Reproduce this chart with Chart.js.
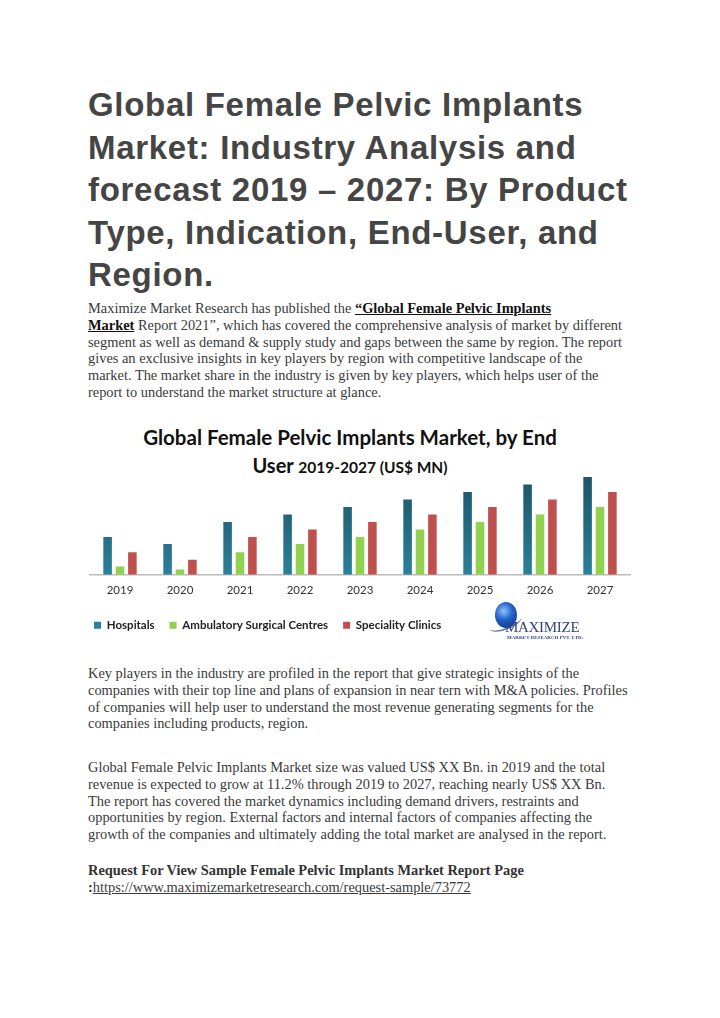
<!DOCTYPE html>
<html>
<head>
<meta charset="utf-8">
<script src="https://cdn.jsdelivr.net/npm/chart.js@4.4.1/dist/chart.umd.min.js"></script>
<style>
  html, body { margin: 0; padding: 0; background: #fff; }
  body { width: 720px; height: 1018px; position: relative; overflow: hidden; }
  .h1 {
    position: absolute; left: 88px; top: 84px; white-space: nowrap;
    font-family: "Liberation Sans", Arial, sans-serif; font-weight: bold;
    font-size: 33px; line-height: 42.5px; color: #454545; letter-spacing: 0.7px;
  }
  .p {
    position: absolute; left: 88px; white-space: nowrap;
    font-family: "Liberation Serif", "Times New Roman", serif;
    font-size: 14.4px; line-height: 16.8px; color: #3a3a3a;
  }
  .p b.lnk { color: #111; text-decoration: underline; }
  .ctitle {
    position: absolute; left: 80px; width: 540px; text-align: center;
    font-family: Lato, "Open Sans", sans-serif; font-weight: bold; color: #111;
  }
  #wrap { position: absolute; left: 84px; top: 470px; width: 552px; height: 173px; }
  .logo { position: absolute; left: 488px; top: 600px; width: 110px; height: 44px; }
  .globe {
    position: absolute; left: 7px; top: 2px; width: 22px; height: 26px; border-radius: 50%;
    background: radial-gradient(circle at 40% 35%, #8cc4ff 0%, #2563c9 40%, #0a2a85 100%);
  }
  .swoosh {
    position: absolute; left: 0px; top: 16px; width: 34px; height: 12px; border-radius: 50%;
    border-bottom: 2px solid #6c7fb0; transform: rotate(-20deg);
  }
  .mx { position: absolute; left: 17px; top: 19px; font-family: "Liberation Serif", serif;
        font-size: 15px; color: #33457f; letter-spacing: -0.3px; }
  .mr { position: absolute; left: 19px; top: 35px; font-family: "Liberation Serif", serif;
        font-size: 5px; font-weight: bold; color: #33457f; white-space: nowrap; }
</style>
</head>
<body>
<div class="h1">Global Female Pelvic Implants<br>Market: Industry Analysis and<br>forecast 2019 – 2027: By Product<br>Type, Indication, End-User, and<br>Region.</div>

<div class="p" style="top:300px">Maximize Market Research has published the <b class="lnk">“Global Female Pelvic Implants<br>Market</b> Report 2021”, which has covered the comprehensive analysis of market by different<br>segment as well as demand &amp; supply study and gaps between the same by region. The report<br>gives an exclusive insights in key players by region with competitive landscape of the<br>market. The market share in the industry is given by key players, which helps user of the<br>report to understand the market structure at glance.</div>

<div class="ctitle" style="top:424px; font-size:20.5px; line-height:26px;">Global Female Pelvic Implants Market, by End</div>
<div class="ctitle" style="top:452px; font-size:20px; line-height:26px;">User <span style="font-size:15.5px">2019-2027 (US$ MN)</span></div>

<div id="wrap"><canvas id="chart"></canvas></div>

<div class="logo">
  <div class="swoosh"></div>
  <div class="globe"></div>
  <div class="mx">MAXIMIZE</div>
  <div class="mr">MARKET RESEARCH PVT. LTD.</div>
</div>

<div class="p" style="top:665px">Key players in the industry are profiled in the report that give strategic insights of the<br>companies with their top line and plans of expansion in near tern with M&amp;A policies. Profiles<br>of companies will help user to understand the most revenue generating segments for the<br>companies including products, region.</div>

<div class="p" style="top:759px">Global Female Pelvic Implants Market size was valued US$ XX Bn. in 2019 and the total<br>revenue is expected to grow at 11.2% through 2019 to 2027, reaching nearly US$ XX Bn.<br>The report has covered the market dynamics including demand drivers, restraints and<br>opportunities by region. External factors and internal factors of companies affecting the<br>growth of the companies and ultimately adding the total market are analysed in the report.</div>

<div class="p" style="top:862px"><b style="color:#333">Request For View Sample Female Pelvic Implants Market Report Page<br>:</b><span style="text-decoration:underline">https://www.maximizemarketresearch.com/request-sample/73772</span></div>

<script>
const years = ['2019', '2020', '2021', '2022', '2023', '2024', '2025', '2026', '2027'];
const hospitals = [5, 4.1, 7, 8, 9, 10, 11, 12, 13];
const ambulatory = [1.1, 0.7, 3, 4.1, 5, 6, 7, 8, 9];
const speciality = [3, 2, 5, 6, 7, 8, 9, 10, 11];

function hospGradient(context) {
  const chart = context.chart;
  const area = chart.chartArea;
  if (!area) return '#236f85';
  const g = chart.ctx.createLinearGradient(0, area.top, 0, area.bottom);
  g.addColorStop(0, '#1d5468');
  g.addColorStop(1, '#2b8099');
  return g;
}

// nudge the legend left/up so it sits like the original image
const legendShift = {
  id: 'legendShift',
  afterLayout(chart) {
    const lg = chart.legend;
    lg.left -= 11; lg.right -= 11;
    lg.top -= 2; lg.bottom -= 2;
  }
};

const ctx = document.getElementById('chart').getContext('2d');
new Chart(ctx, {
  type: 'bar',
  data: {
    labels: years,
    datasets: [
      { label: 'Hospitals', data: hospitals, backgroundColor: hospGradient, borderWidth: 0 },
      { label: 'Ambulatory Surgical Centres', data: ambulatory, backgroundColor: '#92d050', borderWidth: 0 },
      { label: 'Speciality Clinics', data: speciality, backgroundColor: '#c0504d', borderWidth: 0 }
    ]
  },
  plugins: [legendShift],
  options: {
    responsive: true,
    maintainAspectRatio: false,
    animation: false,
    datasets: { bar: { categoryPercentage: 0.62, barPercentage: 0.69 } },
    layout: { padding: { left: 6, right: 6, top: 7, bottom: 0 } },
    scales: {
      x: {
        grid: { display: false, drawTicks: false },
        border: { display: true, color: '#bdbdbd', width: 1.5 },
        ticks: { color: '#333', padding: 9, font: { family: 'Lato', size: 11.5 } }
      },
      y: { display: false, min: 0, max: 13 }
    },
    plugins: {
      legend: {
        position: 'bottom',
        align: 'start',
        labels: {
          boxWidth: 7, boxHeight: 7, padding: 15, color: '#222',
          font: { family: 'Lato', size: 11.5, weight: 'bold' }
        }
      },
      tooltip: { enabled: false }
    }
  }
});
</script>
</body>
</html>
